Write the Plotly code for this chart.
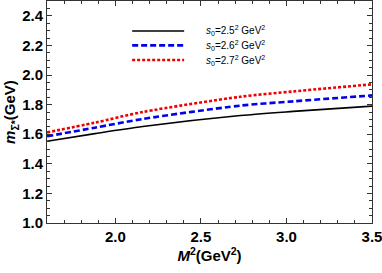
import plotly.graph_objects as go

M2 = [1.6, 1.88, 2.16, 2.73, 3.04, 3.5]
m_s25 = [1.552, 1.604, 1.652, 1.726, 1.754, 1.790]
m_s26 = [1.586, 1.644, 1.703, 1.793, 1.822, 1.862]
m_s27 = [1.612, 1.678, 1.750, 1.853, 1.889, 1.937]
labels = ["<i>s</i><sub>0</sub>=2.5<sup>2</sup> GeV<sup>2</sup>",
          "<i>s</i><sub>0</sub>=2.6<sup>2</sup> GeV<sup>2</sup>",
          "<i>s</i><sub>0</sub>=2.7<sup>2</sup> GeV<sup>2</sup>"]
xticks = [2.0, 2.5, 3.0, 3.5]
yticks = [1.0, 1.2, 1.4, 1.6, 1.8, 2.0, 2.2, 2.4]
colors = ["black", "#0000ee", "#ee0000"]
dashes = ["solid", "6px,3px", "3px,2px"]
widths = [1.6, 2.6, 2.6]

FONT = "Liberation Sans, Arial"

fig = go.Figure()
for ys, lab, c, d, w in zip([m_s25, m_s26, m_s27], labels, colors, dashes, widths):
    fig.add_trace(go.Scatter(x=M2, y=ys, mode="lines", name=lab, showlegend=False,
                             line=dict(color=c, dash=d, width=w, shape="spline", smoothing=0.8)))

# legend keys (layout decoration)
leg_y = [0.865, 0.800, 0.734]
for lab, c, d, w, yy in zip(labels, colors, dashes, widths, leg_y):
    fig.add_shape(type="line", xref="paper", yref="paper", x0=0.262, x1=0.422, y0=yy, y1=yy,
                  line=dict(color=c, dash=d, width=w))
    fig.add_annotation(xref="paper", yref="paper", x=0.484, y=yy, text=lab, showarrow=False,
                       xanchor="left", yanchor="middle",
                       font=dict(family=FONT, size=10, color="black"))

axis_common = dict(showline=True, linecolor="#333", linewidth=1, mirror="allticks",
                   ticks="inside", ticklen=5, tickcolor="#333", showgrid=False, zeroline=False,
                   automargin=False, ticklabeloverflow="allow",
                   tickfont=dict(family=FONT, size=15, color="black"))

fig.update_xaxes(range=[1.6, 3.5], tickvals=xticks, ticktext=["<b>%.1f</b>" % v for v in xticks],
                 minor=dict(dtick=0.1, ticks="inside", ticklen=3, tickcolor="#333"),
                 title=dict(text="<b><i>M</i><sup>2</sup>(GeV<sup>2</sup>)</b>", standoff=2,
                            font=dict(family=FONT, size=15, color="black")),
                 **axis_common)
fig.update_yaxes(range=[1.0, 2.5], tickvals=yticks, ticktext=["<b>%.1f</b>" % v for v in yticks],
                 minor=dict(dtick=0.05, ticks="inside", ticklen=3, tickcolor="#333"),
                 title=dict(text="<b><i>m</i><sub>Σ*</sub>(GeV)</b>", standoff=2,
                            font=dict(family=FONT, size=15, color="black")),
                 **axis_common)

fig.update_layout(width=382, height=273, margin=dict(l=47, r=10, t=1, b=50),
                  paper_bgcolor="white", plot_bgcolor="white")
fig.write_html("out.html", config={"displayModeBar": False},
               post_script="document.body.style.margin='0';")
